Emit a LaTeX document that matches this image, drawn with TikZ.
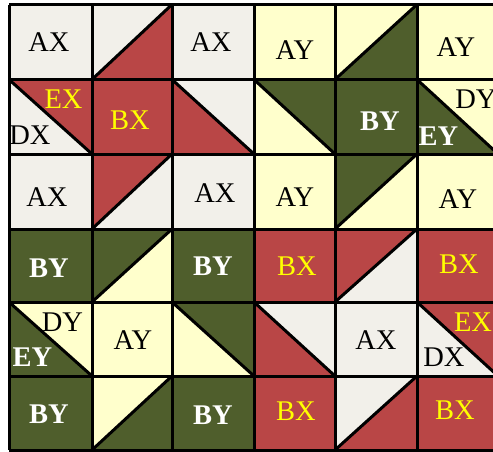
\documentclass[tikz,border=0pt]{standalone}
\usepackage{fontspec}
\setmainfont{Liberation Serif}
\definecolor{qwhite}{HTML}{F2F0EA}
\definecolor{qred}{HTML}{B94646}
\definecolor{qgreen}{HTML}{4F5E2C}
\definecolor{qcream}{HTML}{FFFFCC}
\definecolor{qyellow}{HTML}{FFFF00}

\begin{document}
\begin{tikzpicture}[x=1pt, y=-1pt, every node/.style={font=\fontsize{28.5}{32}\selectfont, inner sep=0pt},
  qline/.style={line width=3pt, line join=round},
  xlbl/.style={text=qyellow},
  ylbl/.style={text=white, font=\fontsize{28.5}{32}\selectfont\bfseries}]
  \useasboundingbox (0,0) rectangle (493,451);
  % row 1
  \fill[qwhite] (9,4.5) rectangle (92,79.5);
  \fill[qwhite] (92,4.5) rectangle (172,79.5);
  \fill[qred] (92,79.5) -- (172,79.5) -- (172,4.5) -- cycle;
  \fill[qwhite] (172,4.5) rectangle (254,79.5);
  \fill[qcream] (254,4.5) rectangle (335,79.5);
  \fill[qcream] (335,4.5) rectangle (417,79.5);
  \fill[qgreen] (335,79.5) -- (417,79.5) -- (417,4.5) -- cycle;
  \fill[qcream] (417,4.5) rectangle (498,79.5);
  % row 2
  \fill[qwhite] (9,79.5) rectangle (92,154);
  \fill[qred] (9,79.5) -- (92,79.5) -- (92,154) -- cycle;
  \fill[qred] (92,79.5) rectangle (172,154);
  \fill[qwhite] (172,79.5) rectangle (254,154);
  \fill[qred] (172,79.5) -- (172,154) -- (254,154) -- cycle;
  \fill[qcream] (254,79.5) rectangle (335,154);
  \fill[qgreen] (254,79.5) -- (335,79.5) -- (335,154) -- cycle;
  \fill[qgreen] (335,79.5) rectangle (417,154);
  \fill[qcream] (417,79.5) rectangle (498,154);
  \fill[qgreen] (417,79.5) -- (417,154) -- (498,154) -- cycle;
  % row 3
  \fill[qwhite] (9,154) rectangle (92,229);
  \fill[qwhite] (92,154) rectangle (172,229);
  \fill[qred] (92,154) -- (172,154) -- (92,229) -- cycle;
  \fill[qwhite] (172,154) rectangle (254,229);
  \fill[qcream] (254,154) rectangle (335,229);
  \fill[qcream] (335,154) rectangle (417,229);
  \fill[qgreen] (335,154) -- (417,154) -- (335,229) -- cycle;
  \fill[qcream] (417,154) rectangle (498,229);
  % row 4
  \fill[qgreen] (9,229) rectangle (92,302);
  \fill[qcream] (92,229) rectangle (172,302);
  \fill[qgreen] (92,229) -- (172,229) -- (92,302) -- cycle;
  \fill[qgreen] (172,229) rectangle (254,302);
  \fill[qred] (254,229) rectangle (335,302);
  \fill[qwhite] (335,229) rectangle (417,302);
  \fill[qred] (335,229) -- (417,229) -- (335,302) -- cycle;
  \fill[qred] (417,229) rectangle (498,302);
  % row 5
  \fill[qcream] (9,302) rectangle (92,376);
  \fill[qgreen] (9,302) -- (9,376) -- (92,376) -- cycle;
  \fill[qcream] (92,302) rectangle (172,376);
  \fill[qcream] (172,302) rectangle (254,376);
  \fill[qgreen] (172,302) -- (254,302) -- (254,376) -- cycle;
  \fill[qwhite] (254,302) rectangle (335,376);
  \fill[qred] (254,302) -- (254,376) -- (335,376) -- cycle;
  \fill[qwhite] (335,302) rectangle (417,376);
  \fill[qwhite] (417,302) rectangle (498,376);
  \fill[qred] (417,302) -- (498,302) -- (498,376) -- cycle;
  % row 6
  \fill[qgreen] (9,376) rectangle (92,450);
  \fill[qcream] (92,376) rectangle (172,450);
  \fill[qgreen] (92,450) -- (172,450) -- (172,376) -- cycle;
  \fill[qgreen] (172,376) rectangle (254,450);
  \fill[qred] (254,376) rectangle (335,450);
  \fill[qwhite] (335,376) rectangle (417,450);
  \fill[qred] (335,450) -- (417,450) -- (417,376) -- cycle;
  \fill[qred] (417,376) rectangle (498,450);
  % diagonals
  \draw[qline] (92,79.5) -- (172,4.5);
  \draw[qline] (335,79.5) -- (417,4.5);
  \draw[qline] (9,79.5) -- (92,154);
  \draw[qline] (172,79.5) -- (254,154);
  \draw[qline] (254,79.5) -- (335,154);
  \draw[qline] (417,79.5) -- (498,154);
  \draw[qline] (92,229) -- (172,154);
  \draw[qline] (335,229) -- (417,154);
  \draw[qline] (92,302) -- (172,229);
  \draw[qline] (335,302) -- (417,229);
  \draw[qline] (9,302) -- (92,376);
  \draw[qline] (172,302) -- (254,376);
  \draw[qline] (254,302) -- (335,376);
  \draw[qline] (417,302) -- (498,376);
  \draw[qline] (92,450) -- (172,376);
  \draw[qline] (335,450) -- (417,376);
  % cell borders
  \draw[qline] (9,4.5) -- (498,4.5) (9,79.5) -- (498,79.5) (9,154) -- (498,154)
    (9,229) -- (498,229) (9,302) -- (498,302) (9,376) -- (498,376) (9,450) -- (498,450);
  \draw[qline] (9,4.5) -- (9,450) (92,4.5) -- (92,450) (172,4.5) -- (172,450)
    (254,4.5) -- (254,450) (335,4.5) -- (335,450) (417,4.5) -- (417,450);
  % labels
  \node (ax11) at (49,42) {AX};
  \node (ax13) at (211,42) {AX};
  \node (ay14) at (295,50) {AY};
  \node (ay16) at (456,47) {AY};
  \node[xlbl] (ex21) at (63.5,99) {EX};
  \node (dx21) at (30,135) {DX};
  \node[xlbl] (bx22) at (130,120) {BX};
  \node[ylbl] (by25) at (380,121) {BY};
  \node (dy26) at (476,99) {DY};
  \node[ylbl] (ey26) at (438.5,136) {EY};
  \node (ax31) at (47,197) {AX};
  \node (ax33) at (215,193) {AX};
  \node (ay34) at (295,197) {AY};
  \node (ay36) at (458,199) {AY};
  \node[ylbl] (by41) at (49,268) {BY};
  \node[ylbl] (by43) at (213,266) {BY};
  \node[xlbl] (bx44) at (297,266) {BX};
  \node[xlbl] (bx46) at (459,264) {BX};
  \node (dy51) at (62.5,322) {DY};
  \node[ylbl] (ey51) at (32.5,357.5) {EY};
  \node (ay52) at (133,340) {AY};
  \node (ax55) at (376,340) {AX};
  \node[xlbl] (ex56) at (473,322.5) {EX};
  \node (dx56) at (444,357.5) {DX};
  \node[ylbl] (by61) at (49,414) {BY};
  \node[ylbl] (by63) at (213,415) {BY};
  \node[xlbl] (bx64) at (296,411) {BX};
  \node[xlbl] (bx66) at (455,410) {BX};
\end{tikzpicture}
\end{document}
